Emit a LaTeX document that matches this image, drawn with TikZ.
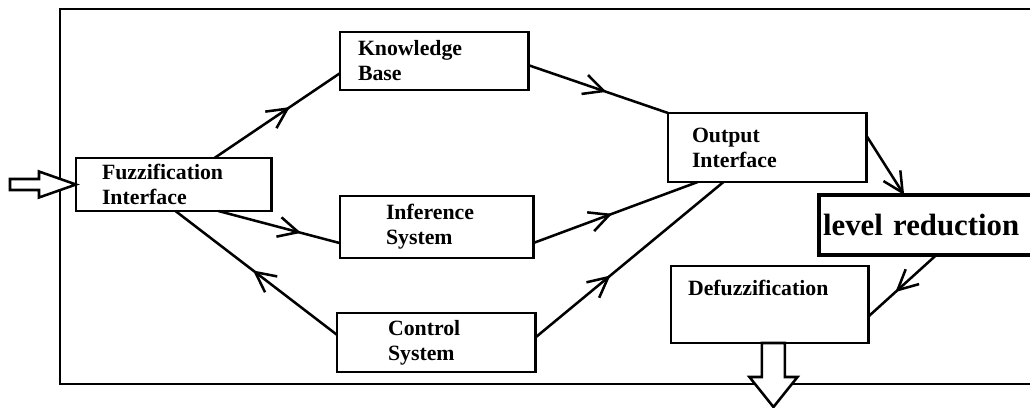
\documentclass[tikz,border=0pt]{standalone}
\usepackage{fontspec}
\setmainfont{Liberation Serif}
\usetikzlibrary{arrows.meta,calc,decorations.markings}
\tikzset{midarr/.style={postaction={decorate,decoration={markings,mark=at position #1 with {\arrow{>}}}}}}

\begin{document}
\begin{tikzpicture}[x=0.025cm,y=-0.025cm,line width=1.8pt,
                    >={Straight Barb[length=5mm,width=5mm]}]
  \tikzstyle{block}=[rectangle,draw=black,fill=white,line width=2.1pt,inner ysep=0pt,outer sep=0pt,
                     align=left,anchor=west,font=\fontsize{15.5}{17.8}\selectfont\bfseries]
  \tikzstyle{hollow}=[draw=black,fill=white,line width=1.8pt,line join=miter]

  \useasboundingbox (0,0) rectangle (1030,407);
  \draw[line width=2.1pt] (60,9) rectangle (1060,384);

  \node[block,text width=3.575cm,inner xsep=0.65cm,minimum height=1.325cm] (fuzz) at (76,184.5) {Fuzzification\\Interface};
  \node[block,text width=3.8cm,inner xsep=0.45cm,minimum height=1.45cm] (kb) at (340,61) {Knowledge\\Base};
  \node[block,text width=2.525cm,inner xsep=1.15cm,minimum height=1.55cm] (inf) at (340,227) {Inference\\System};
  \node[block,text width=2.4cm,inner xsep=1.275cm,minimum height=1.475cm] (ctl) at (337,342.5) {Control\\System};
  \node[block,text width=3.75cm,inner xsep=0.6cm,minimum height=1.725cm] (out) at (668,147.5) {Output\\Interface};
  \node[block,text width=4.075cm,inner xsep=0.425cm,minimum height=1.925cm] (def) at (671,304.5) {Defuzzification\\\strut};
  \node[block,line width=3.5pt,text width=5.55cm,inner xsep=0.1cm,minimum height=1.5cm,
        font=\fontsize{21.9}{24}\selectfont\bfseries] (lvl) at (819,225) {level reduction};

  % hollow input and output arrows
  \coordinate (intip) at (fuzz.west);
  \coordinate (outtail) at ($(def.south west)!0.52!(def.south east)$);
  \draw[hollow] (intip) -- ++(-37,-13) -- ++(0,7.5) -- ++(-29,0) -- ++(0,11) -- ++(29,0) -- ++(0,7.5) -- cycle;
  \draw[hollow] (outtail) ++(-11.5,0) -- ++(0,34) -- ++(-12.5,0) -- ++(24,30) -- ++(24,-30) -- ++(-12.5,0) -- ++(0,-34) -- cycle;

  \draw[midarr=0.6] ($(fuzz.north west)!0.71!(fuzz.north east)$) -- ($(kb.north west)!0.71!(kb.south west)$);
  \draw[midarr=0.68] ($(fuzz.south west)!0.73!(fuzz.south east)$) -- ($(inf.north west)!0.76!(inf.south west)$);
  \draw[midarr=0.52] ($(ctl.north west)!0.37!(ctl.south west)$) -- ($(fuzz.south west)!0.51!(fuzz.south east)$);
  \draw[midarr=0.56] ($(kb.north east)!0.57!(kb.south east)$) -- (out.north west);
  \draw[midarr=0.48] ($(inf.north east)!0.76!(inf.south east)$) -- ($(out.south west)!0.15!(out.south east)$);
  \draw[midarr=0.4] ($(ctl.north east)!0.42!(ctl.south east)$) -- ($(out.south west)!0.28!(out.south east)$);
  \draw[->] ($(out.north east)!0.32!(out.south east)$) -- ($(lvl.north west)!0.37!(lvl.north east)$);
  \draw[midarr=0.6] ($(lvl.south west)!0.51!(lvl.south east)$) -- ($(def.north east)!0.66!(def.south east)$);
\end{tikzpicture}
\end{document}
